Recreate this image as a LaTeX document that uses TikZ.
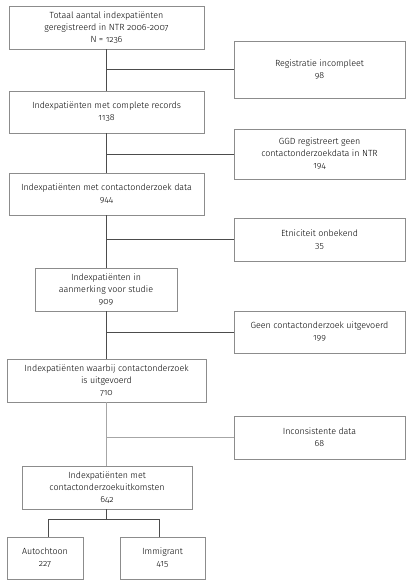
\documentclass[tikz,border=0pt]{standalone}
\usepackage{fontspec}
\setmainfont[Numbers=OldStyle]{Fira Sans Light}
\begin{document}
\begin{tikzpicture}[x=1pt,y=-1pt,
  box/.style={draw=black!45,line width=0.8pt,inner sep=0pt,align=center,
    font=\fontsize{8.9}{12}\selectfont},
  conn/.style={draw=black!70,line width=0.6pt},
  connl/.style={draw=black!35,line width=0.6pt}]
\useasboundingbox (0,0) rectangle (411,585);
\newcommand{\bx}[6]{\node[box,minimum width=#4-#2,minimum height=#5-#3] (#1) at ({(#2+#4)/2},{(#3+#5)/2}) {#6};}
\bx{a}{9}{6}{204}{49}{Totaal aantal indexpatiënten\\geregistreerd in NTR 2006-2007\\N = 1236}
\bx{r1}{234}{41}{405}{98}{Registratie incompleet\\98}
\bx{b}{9}{91}{204}{133}{Indexpatiënten met complete records\\1138}
\bx{r2}{234}{129}{405}{179}{GGD registreert geen\\contactonderzoekdata in NTR\\194}
\bx{c}{9}{173}{204}{215}{Indexpatiënten met contactonderzoek data\\944}
\bx{r3}{234}{218}{405}{261}{Etniciteit onbekend\\35}
\bx{d}{35}{268}{177}{311}{Indexpatiënten in\\aanmerking voor studie\\909}
\bx{r4}{234}{311}{405}{353}{Geen contactonderzoek uitgevoerd\\199}
\bx{e}{7}{359}{206}{402}{Indexpatiënten waarbij contactonderzoek\\is uitgevoerd\\710}
\bx{r5}{234}{416}{405}{459}{Inconsistente data\\68}
\bx{f}{22}{466}{192}{509}{Indexpatiënten met\\contactonderzoekuitkomsten\\642}
\bx{g}{7}{537}{83}{579}{Autochtoon\\227}
\bx{h}{120}{537}{205}{579}{Immigrant\\415}
\coordinate (j1) at (106,69);
\coordinate (j2) at (106,154);
\coordinate (j3) at (106,239);
\coordinate (j4) at (106,332);
\coordinate (j5) at (106,437);
\coordinate (j6) at (106,519);
\coordinate (gl) at (48,519);
\coordinate (hr) at (159,519);
\draw[conn] (a.south -| j1) -- (b.north -| j1);
\draw[conn] (j1) -- (j1 -| r1.west);
\draw[conn] (b.south -| j2) -- (c.north -| j2);
\draw[conn] (j2) -- (j2 -| r2.west);
\draw[conn] (c.south -| j3) -- (d.north -| j3);
\draw[conn] (j3) -- (j3 -| r3.west);
\draw[conn] (d.south -| j4) -- (e.north -| j4);
\draw[conn] (j4) -- (j4 -| r4.west);
\draw[connl] (e.south -| j5) -- (f.north -| j5);
\draw[connl] (j5) -- (j5 -| r5.west);
\draw[conn] (f.south -| j6) -- (j6);
\draw[conn] (g.north -| gl) -- (gl) -- (hr) -- (h.north -| hr);
\end{tikzpicture}
\end{document}
